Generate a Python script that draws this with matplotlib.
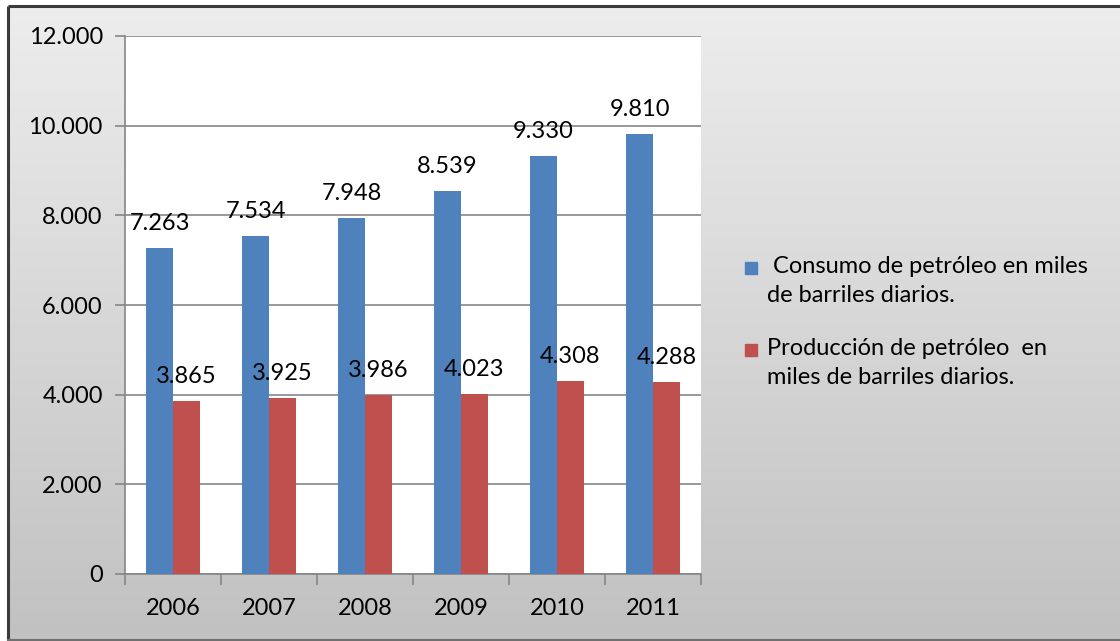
import matplotlib
matplotlib.use("Agg")
import matplotlib.pyplot as plt
import numpy as np
from matplotlib.patches import Rectangle

years = ["2006", "2007", "2008", "2009", "2010", "2011"]
consumo = [7263, 7534, 7948, 8539, 9330, 9810]
produccion = [3865, 3925, 3986, 4023, 4308, 4288]
labels = [" Consumo de petróleo en miles\nde barriles diarios.",
          "Producción de petróleo  en\nmiles de barriles diarios."]
yticks = [0, 2000, 4000, 6000, 8000, 10000, 12000]

BLUE = "#4f81bd"
RED = "#c0504d"
FONT = "Lato"
FS = 17

plt.rcParams["font.family"] = [FONT, "DejaVu Sans"]

W, H = 1120, 641
fig = plt.figure(figsize=(W / 100, H / 100), dpi=100)
fig.patch.set_facecolor("white")

# background gradient panel
bg = fig.add_axes([0, 0, 1, 1], zorder=-10)
bg.set_xlim(0, W)
bg.set_ylim(H, 0)
bg.axis("off")
grad = np.linspace(0, 1, 256).reshape(-1, 1)
top = np.array([237, 237, 237]) / 255
bot = np.array([193, 193, 193]) / 255
img = top + (bot - top) * grad[:, :, None]
bg.imshow(img, extent=[8, W, H - 1, 6], aspect="auto", interpolation="bilinear")
bg.plot([8, 8], [6, H - 1], color="#3a3a3a", lw=2.2, solid_capstyle="butt")
bg.plot([8, W], [6, 6], color="#3a3a3a", lw=2.2, solid_capstyle="butt")
bg.plot([8, W], [H - 1.5, H - 1.5], color="#707070", lw=1.5)

# main axes
left, right, top_px, bottom_px = 125, 701, 36, 574
ax = fig.add_axes([left / W, 1 - bottom_px / H, (right - left) / W, (bottom_px - top_px) / H])
ax.set_facecolor("white")

x = np.arange(len(years))
bw = 0.28
b1 = ax.bar(x - bw / 2, consumo, bw, color=BLUE, zorder=3)
b2 = ax.bar(x + bw / 2, produccion, bw, color=RED, zorder=3)

for rects, vals in ((b1, consumo), (b2, produccion)):
    for r, v in zip(rects, vals):
        ax.annotate(f"{v:,}".replace(",", "."),
                    (r.get_x() + r.get_width() / 2, v),
                    xytext=(0, 10), textcoords="offset points",
                    ha="center", va="bottom", fontsize=FS, color="black", zorder=5)

ax.set_xlim(-0.5, len(years) - 0.5)
ax.set_ylim(0, 12000)
ax.set_yticks(yticks)
ax.set_yticklabels([f"{v:,}".replace(",", ".") for v in yticks])
ax.grid(axis="y", color="#868686", lw=1.2, zorder=1)
ax.set_axisbelow(True)

ax.set_xticks(x)
ax.set_xticklabels(years)
ax.set_xticks(np.arange(-0.5, len(years)), minor=True)
ax.tick_params(axis="x", which="major", length=0, pad=17, labelsize=FS)
ax.tick_params(axis="x", which="minor", length=8, width=1.2, color="#868686", direction="out")
ax.tick_params(axis="y", length=7, width=1.2, color="#868686", pad=9, labelsize=FS)

for s in ("top", "right"):
    ax.spines[s].set_visible(False)
for s in ("left", "bottom"):
    ax.spines[s].set_color("#868686")
    ax.spines[s].set_linewidth(1.2)

# legend (drawn in figure pixels)
entries = [(BLUE, labels[0], 268), (RED, labels[1], 350)]
for color, lab, ypx in entries:
    bg.add_patch(Rectangle((745, ypx - 6), 12, 12, color=color))
    bg.text(767, ypx - 12, lab, fontsize=FS, va="top", ha="left",
            linespacing=1.45, color="black")

fig.savefig("out.png", dpi=100)
